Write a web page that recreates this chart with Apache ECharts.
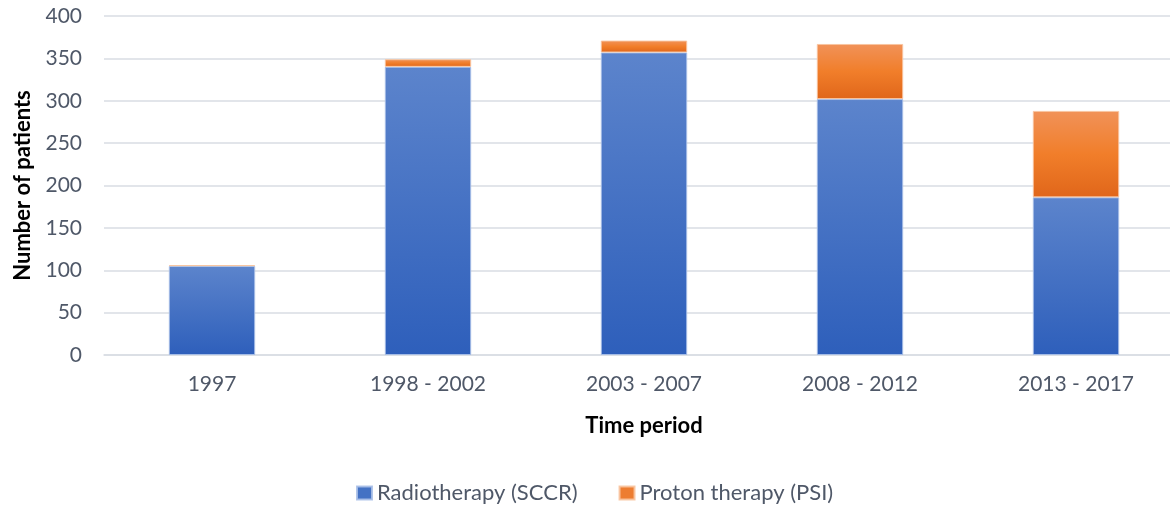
<!DOCTYPE html>
<html>
<head>
<meta charset="utf-8">
<script src="https://cdn.jsdelivr.net/npm/echarts@6/dist/echarts.min.js"></script>
<style>
  html, body { margin: 0; padding: 0; background: #fff; }
  #chart { width: 1170px; height: 509px; }
</style>
</head>
<body>
<div id="chart"></div>
<script>
const periods = ["1997", "1998 - 2002", "2003 - 2007", "2008 - 2012", "2013 - 2017"];
const radiotherapy = [105, 340, 357, 302, 186];
const proton = [1, 9, 14, 65, 102];
const yTicks = { min: 0, max: 400, interval: 50 };

window.addEventListener("load", function () {
  const myChart = echarts.init(document.getElementById("chart"));
  const font = "Lato, 'Open Sans', sans-serif";
  const labelColor = "#4f5868";

  const blueFill = new echarts.graphic.LinearGradient(0, 0, 0, 1, [
    { offset: 0, color: "#5c84cc" },
    { offset: 1, color: "#2e5fbb" },
  ]);
  const orangeFill = new echarts.graphic.LinearGradient(0, 0, 0, 1, [
    { offset: 0, color: "#f19259" },
    { offset: 0.5, color: "#f17e2a" },
    { offset: 1, color: "#e0661a" },
  ]);

  let option = {
    animation: false,
    textStyle: { fontFamily: font },
    // the plot runs past the right edge, like the source image
    grid: { left: 104, width: 1080, top: 16, bottom: 154, outerBoundsMode: "none", containLabel: false },
    legend: {
      bottom: 0,
      left: 351,
      itemWidth: 15,
      itemHeight: 13,
      itemGap: 41,
      icon: "rect",
      textStyle: { fontSize: 22, color: labelColor, fontFamily: font },
      data: [
        { name: "Radiotherapy (SCCR)", itemStyle: { color: "#4472c4" } },
        { name: "Proton therapy (PSI)", itemStyle: { color: "#ed7d31" } },
      ],
    },
    xAxis: {
      type: "category",
      data: periods,
      name: "Time period",
      nameLocation: "middle",
      nameGap: 60,
      nameTextStyle: { fontSize: 22, fontWeight: "bold", color: "#000", fontFamily: font },
      axisLine: { lineStyle: { color: "#d9dde3", width: 1.5 } },
      axisTick: { show: false },
      axisLabel: { fontSize: 21, color: labelColor, margin: 19, fontFamily: font },
    },
    yAxis: {
      type: "value",
      min: yTicks.min,
      max: yTicks.max,
      interval: yTicks.interval,
      name: "Number of patients",
      nameLocation: "middle",
      nameGap: 70,
      nameTextStyle: { fontSize: 22, fontWeight: "bold", color: "#000", fontFamily: font },
      axisLine: { show: false },
      axisTick: { show: false },
      axisLabel: { fontSize: 21, color: labelColor, margin: 22, fontFamily: font },
      splitLine: { lineStyle: { color: "#d9dde3", width: 1.5 } },
    },
    series: [
      {
        name: "Radiotherapy (SCCR)",
        type: "bar",
        stack: "total",
        data: radiotherapy,
        barWidth: "40%",
        itemStyle: { color: blueFill, borderColor: "rgba(170,192,232,0.9)", borderWidth: 1 },
      },
      {
        name: "Proton therapy (PSI)",
        type: "bar",
        stack: "total",
        data: proton,
        barWidth: "40%",
        itemStyle: { color: orangeFill, borderColor: "rgba(248,196,160,0.9)", borderWidth: 1 },
      },
    ],
  };
  myChart.setOption(option);
});
</script>
</body>
</html>
